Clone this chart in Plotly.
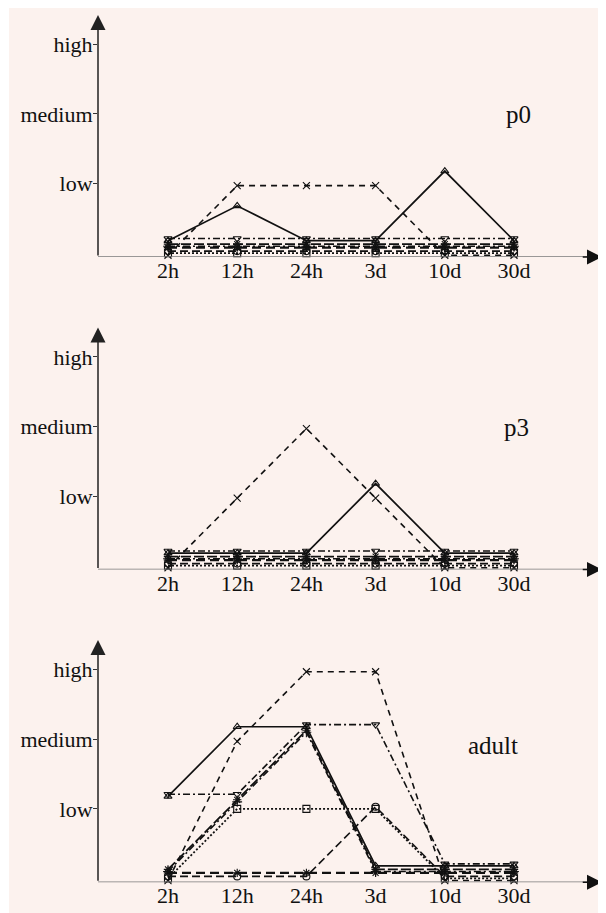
import plotly.graph_objects as go

categories = ["2h", "12h", "24h", "3d", "10d", "30d"]
level_ticks = [1, 2, 3]
level_labels = ["low", "medium", "high"]
panel_names = ["p0", "p3", "adult"]

# plotted values (expression level, each gene slightly offset from the others)
p0_s1 = [0.18, 0.68, 0.18, 0.18, 1.18, 0.18]
p0_s2 = [-0.03, 0.97, 0.97, 0.97, -0.03, -0.03]
p0_s3 = [0.21, 0.21, 0.21, 0.21, 0.21, 0.21]
p0_s4 = [0.00, 0.00, 0.00, 0.00, 0.00, 0.00]
p0_s5 = [0.03, 0.03, 0.03, 0.03, 0.03, 0.03]
p0_s6 = [0.08, 0.08, 0.08, 0.08, 0.08, 0.08]
p0_s7 = [0.10, 0.10, 0.10, 0.10, 0.10, 0.10]
p0_s8 = [0.13, 0.13, 0.13, 0.13, 0.13, 0.13]

p3_s1 = [0.18, 0.18, 0.18, 1.18, 0.18, 0.18]
p3_s2 = [-0.03, 0.97, 1.97, 0.97, -0.03, -0.03]
p3_s3 = [0.21, 0.21, 0.21, 0.21, 0.21, 0.21]
p3_s4 = [0.00, 0.00, 0.00, 0.00, 0.00, 0.00]
p3_s5 = [0.03, 0.03, 0.03, 0.03, 0.03, 0.03]
p3_s6 = [0.08, 0.08, 0.08, 0.08, 0.08, 0.08]
p3_s7 = [0.10, 0.10, 0.10, 0.10, 0.10, 0.10]
p3_s8 = [0.13, 0.13, 0.13, 0.13, 0.13, 0.13]

ad_s1 = [1.18, 2.18, 2.18, 0.18, 0.18, 0.18]
ad_s2 = [-0.03, 1.97, 2.97, 2.97, -0.03, -0.03]
ad_s3 = [1.21, 1.21, 2.21, 2.21, 0.21, 0.21]
ad_s4 = [0.00, 1.00, 1.00, 1.00, 0.00, 0.00]
ad_s5 = [0.03, 0.03, 0.03, 1.03, 0.03, 0.03]
ad_s6 = [0.08, 0.08, 0.08, 0.08, 0.08, 0.08]
ad_s7 = [0.10, 1.10, 2.10, 0.10, 0.10, 0.10]
ad_s8 = [0.13, 1.13, 2.13, 0.13, 0.13, 0.13]

panels = [
    [p0_s1, p0_s2, p0_s3, p0_s4, p0_s5, p0_s6, p0_s7, p0_s8],
    [p3_s1, p3_s2, p3_s3, p3_s4, p3_s5, p3_s6, p3_s7, p3_s8],
    [ad_s1, ad_s2, ad_s3, ad_s4, ad_s5, ad_s6, ad_s7, ad_s8],
]

styles = [
    dict(dash="solid", width=1.7, symbol="triangle-up-open"),
    dict(dash="6px,5px", width=1.6, symbol="x-thin-open"),
    dict(dash="7px,3px,2px,3px", width=1.6, symbol="triangle-down-open"),
    dict(dash="2px,2px", width=1.8, symbol="square-open"),
    dict(dash="8px,4px", width=1.6, symbol="circle-open"),
    dict(dash="9px,5px", width=2.2, symbol="asterisk-open"),
    dict(dash="7px,3px,2px,3px", width=1.6, symbol="cross-thin-open"),
    dict(dash="10px,3px", width=1.8, symbol="asterisk-open"),
]

OFF = 8  # page body margin of the html page
W, H = 606 - OFF, 913 - OFF
FONT = "Liberation Serif"
INK = "#111111"
# pixel layout (page coords) of each panel: (axis baseline y, arrow top y)
panel_px = [(257, 15), (569.5, 327.5), (882.3, 640)]
x_left_px, x_right_px = 98 - OFF, 602 - OFF
x0_px, dx_px = 168 - OFF, 69.2
unit_px = 69.6
y_bottom_val = -0.055

xr = [(x_left_px - x0_px) / dx_px, (x_right_px - x0_px) / dx_px]

fig = go.Figure()
layout = dict(
    width=W, height=H,
    margin=dict(l=0, r=0, t=0, b=0),
    paper_bgcolor="#FCF2EE",
    plot_bgcolor="rgba(0,0,0,0)",
    showlegend=False,
    font=dict(family=FONT, size=22, color=INK),
)
annotations = []
shapes = [dict(type="rect", xref="paper", yref="paper",
               x0=0, x1=1.0 / W, y0=0, y1=1,
               fillcolor="white", line=dict(width=0), layer="below")]

title_pos = [(518, 114, 25), (516, 427, 25), (493, 745, 25)]

for i, series in enumerate(panels):
    k = "" if i == 0 else str(i + 1)
    base_px, top_px = panel_px[i]
    base_px -= OFF
    top_px -= OFF
    y_top_val = y_bottom_val + (base_px - top_px) / unit_px
    for vals, st in zip(series, styles):
        fig.add_trace(go.Scatter(
            x=categories, y=vals, mode="lines+markers",
            xaxis="x" + k, yaxis="y" + k,
            line=dict(color=INK, width=st["width"], dash=st["dash"]),
            marker=dict(symbol=st["symbol"], size=7, color=INK,
                        line=dict(color=INK, width=1.1)),
            cliponaxis=False,
        ))
    layout["xaxis" + k] = dict(
        domain=[x_left_px / W, x_right_px / W], anchor="y" + k,
        type="category", categoryorder="array", categoryarray=categories,
        range=xr, showgrid=False, zeroline=False, showline=False,
        ticks="", ticklabelstandoff=-2,
        tickfont=dict(family=FONT, size=22, color=INK),
    )
    layout["yaxis" + k] = dict(
        domain=[(H - base_px) / H, (H - top_px) / H], anchor="x" + k,
        range=[y_bottom_val, y_top_val],
        tickvals=level_ticks, ticktext=level_labels,
        ticks="outside", ticklen=4, tickwidth=1, tickcolor="#333333",
        ticklabelstandoff=-4,
        showgrid=False, zeroline=False, showline=False,
        tickfont=dict(family=FONT, size=22, color=INK),
    )
    # x axis line (gray) and arrow head
    shapes.append(dict(type="line", xref="x" + k, yref="y" + k,
                       x0=xr[0], x1=xr[1] - 0.2, y0=y_bottom_val, y1=y_bottom_val,
                       line=dict(color="#7a7a7a", width=1.6)))
    annotations.append(dict(xref="x" + k, yref="y" + k, axref="x" + k, ayref="y" + k,
                            x=xr[1], y=y_bottom_val, ax=xr[1] - 0.3, ay=y_bottom_val,
                            showarrow=True, arrowhead=2, arrowsize=2.0, arrowwidth=1.5,
                            arrowcolor=INK, text=""))
    # y axis line with arrow
    annotations.append(dict(xref="x" + k, yref="y" + k, axref="x" + k, ayref="y" + k,
                            x=xr[0], y=y_top_val, ax=xr[0], ay=y_bottom_val,
                            showarrow=True, arrowhead=2, arrowsize=2.0, arrowwidth=1.5,
                            arrowcolor="#222222", text=""))
    tx, ty, ts = title_pos[i]
    annotations.append(dict(xref="paper", yref="paper", x=(tx - OFF) / W,
                            y=1 - (ty - OFF) / H,
                            text=panel_names[i], showarrow=False,
                            font=dict(family=FONT, size=ts, color=INK),
                            xanchor="center", yanchor="middle"))

layout["annotations"] = annotations
layout["shapes"] = shapes
fig.update_layout(**layout)
fig.write_html("out.html")
